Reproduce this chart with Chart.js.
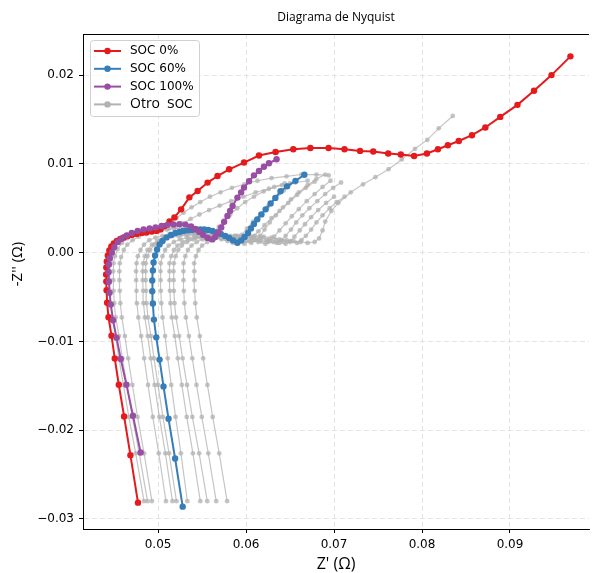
<!DOCTYPE html>
<html>
<head>
<meta charset="utf-8">
<script src="https://cdn.jsdelivr.net/npm/chart.js@4.4.1/dist/chart.umd.min.js"></script>
<style>
	html, body { margin: 0; padding: 0; background: #ffffff; }
	#wrap { width: 593px; height: 573px; }
</style>
</head>
<body>
<div id="wrap"><canvas id="nyquist" width="593" height="573"></canvas></div>
<script>
// axis ticks
const xTicks = [0.05, 0.06, 0.07, 0.08, 0.09];
const yTicks = [-0.03, -0.02, -0.01, 0.0, 0.01, 0.02];

// SOC 0%
const soc0Re = [0.04772,0.04686,0.04614,0.04554,0.04508,0.04471,0.04437,0.04421,0.04415,0.04412,0.04410,0.04412,0.04418,0.04429,0.04446,0.04469,0.04497,0.04531,0.04571,0.04610,0.04655,0.04701,0.04757,0.04814,0.04870,0.04927,0.04983,0.05028,0.05073,0.05130,0.05186,0.05262,0.05356,0.05450,0.05563,0.05676,0.05808,0.05977,0.06147,0.06336,0.06537,0.06731,0.06938,0.07119,0.07296,0.07446,0.07616,0.07759,0.07910,0.08056,0.08181,0.08294,0.08418,0.08568,0.08720,0.08889,0.09085,0.09273,0.09472,0.09687];
const soc0Im = [-0.02816,-0.02281,-0.01845,-0.01488,-0.01191,-0.00935,-0.00728,-0.00565,-0.00423,-0.00325,-0.00246,-0.00167,-0.00099,-0.00032,0.00025,0.00070,0.00104,0.00132,0.00155,0.00172,0.00188,0.00200,0.00211,0.00222,0.00228,0.00239,0.00245,0.00262,0.00299,0.00352,0.00397,0.00488,0.00623,0.00694,0.00789,0.00863,0.00939,0.01015,0.01094,0.01134,0.01165,0.01178,0.01179,0.01165,0.01146,0.01139,0.01117,0.01105,0.01089,0.01117,0.01165,0.01210,0.01258,0.01323,0.01410,0.01529,0.01665,0.01823,0.02000,0.02211];

// SOC 60%
const soc60Re = [0.05280,0.05194,0.05119,0.05062,0.05017,0.04980,0.04953,0.04941,0.04934,0.04934,0.04941,0.04949,0.04966,0.04989,0.05017,0.05051,0.05096,0.05149,0.05198,0.05243,0.05288,0.05337,0.05384,0.05432,0.05480,0.05525,0.05571,0.05619,0.05667,0.05714,0.05763,0.05808,0.05853,0.05902,0.05944,0.05983,0.06023,0.06056,0.06090,0.06128,0.06175,0.06223,0.06279,0.06333,0.06392,0.06467,0.06562,0.06663];
const soc60Im = [-0.02861,-0.02319,-0.01871,-0.01507,-0.01205,-0.00954,-0.00754,-0.00573,-0.00435,-0.00314,-0.00201,-0.00111,-0.00032,0.00036,0.00093,0.00132,0.00172,0.00200,0.00222,0.00234,0.00245,0.00251,0.00256,0.00262,0.00262,0.00262,0.00256,0.00245,0.00228,0.00211,0.00188,0.00166,0.00138,0.00112,0.00138,0.00177,0.00222,0.00273,0.00324,0.00375,0.00431,0.00488,0.00555,0.00617,0.00691,0.00747,0.00809,0.00877];

// SOC 100%
const soc100Re = [0.04802,0.04715,0.04641,0.04576,0.04528,0.04489,0.04463,0.04449,0.04441,0.04437,0.04441,0.04452,0.04475,0.04503,0.04542,0.04588,0.04644,0.04701,0.04768,0.04836,0.04904,0.04972,0.05040,0.05107,0.05175,0.05243,0.05311,0.05375,0.05424,0.05469,0.05514,0.05563,0.05616,0.05650,0.05684,0.05718,0.05751,0.05789,0.05819,0.05847,0.05902,0.05944,0.05977,0.06034,0.06090,0.06147,0.06203,0.06260,0.06347];
const soc100Im = [-0.02252,-0.01837,-0.01488,-0.01198,-0.00960,-0.00762,-0.00585,-0.00453,-0.00328,-0.00220,-0.00133,-0.00065,0.00002,0.00064,0.00121,0.00160,0.00194,0.00222,0.00245,0.00262,0.00273,0.00284,0.00301,0.00313,0.00318,0.00321,0.00316,0.00296,0.00267,0.00234,0.00200,0.00166,0.00149,0.00177,0.00228,0.00284,0.00347,0.00412,0.00471,0.00525,0.00620,0.00679,0.00733,0.00804,0.00871,0.00920,0.00967,0.01007,0.01052];

// other SOC levels (grey)
const otro1Re = [0.0484,0.04746,0.04668,0.04606,0.04555,0.04516,0.04479,0.04462,0.04455,0.04452,0.0445,0.04455,0.0447,0.0450,0.0455,0.0461,0.0468,0.0476,0.0484,0.0492,0.0500,0.0507,0.0514,0.0521,0.0529,0.0538,0.0548,0.0559,0.0571,0.0584,0.0598,0.0613,0.0629,0.0646,0.0663,0.0680,0.0694];
const otro1Im = [-0.0280,-0.0226,-0.0185,-0.0149,-0.0119,-0.0094,-0.0073,-0.0057,-0.0043,-0.0031,-0.0021,-0.0012,-0.0004,0.0004,0.0011,0.0016,0.0019,0.0021,0.0023,0.0024,0.0025,0.0028,0.0033,0.0039,0.0045,0.0051,0.0057,0.0063,0.0068,0.0073,0.0077,0.0081,0.0084,0.0086,0.0088,0.0088,0.0087];
const otro2Re = [0.0488,0.04786,0.04708,0.04646,0.04595,0.04556,0.04519,0.04502,0.04495,0.04492,0.0449,0.04495,0.0451,0.0454,0.0459,0.0465,0.0472,0.0480,0.0488,0.0496,0.0504,0.0512,0.0520,0.0528,0.0537,0.0547,0.0558,0.0570,0.0583,0.0597,0.0611,0.0626,0.0641,0.0656,0.0670];
const otro2Im = [-0.0280,-0.0226,-0.0185,-0.0149,-0.0119,-0.0094,-0.0073,-0.0057,-0.0043,-0.0031,-0.0021,-0.0012,-0.0004,0.0004,0.0011,0.0016,0.0020,0.0022,0.0024,0.0025,0.0026,0.0027,0.0029,0.0033,0.0038,0.0043,0.0048,0.0053,0.0058,0.0063,0.0068,0.0072,0.0076,0.0079,0.0081];
const otro3Re = [0.0493,0.04841,0.04767,0.04708,0.0466,0.04623,0.04588,0.04571,0.04565,0.04561,0.0456,0.04565,0.0458,0.0461,0.0465,0.0471,0.0478,0.0486,0.0494,0.0502,0.0510,0.0518,0.0526,0.0534,0.0541,0.0548,0.0554,0.0559,0.0564,0.0569,0.0575,0.0582,0.0590,0.0599,0.0609,0.0620,0.0632,0.0644];
const otro3Im = [-0.0280,-0.0226,-0.0185,-0.0149,-0.0119,-0.0094,-0.0073,-0.0057,-0.0043,-0.0031,-0.0021,-0.0012,-0.0005,0.0003,0.0009,0.0014,0.0018,0.0021,0.0023,0.0025,0.0026,0.0027,0.0027,0.0026,0.0024,0.0022,0.0020,0.0019,0.0023,0.0029,0.0036,0.0043,0.0050,0.0057,0.0063,0.0069,0.0074,0.0078];
const otro4Re = [0.0509,0.05008,0.0494,0.04886,0.04842,0.04808,0.04776,0.0476,0.04755,0.04751,0.0475,0.04756,0.0477,0.0480,0.0484,0.0490,0.0497,0.0505,0.0513,0.0521,0.0530,0.0539,0.0548,0.0556,0.0564,0.0572,0.0579,0.0585,0.0590,0.0595,0.0601,0.0608,0.0616,0.0625,0.0634,0.0643,0.0650];
const otro4Im = [-0.0280,-0.0226,-0.0185,-0.0149,-0.0119,-0.0094,-0.0073,-0.0057,-0.0043,-0.0031,-0.0021,-0.0012,-0.0004,0.0003,0.0009,0.0014,0.0017,0.0019,0.0021,0.0022,0.0022,0.0022,0.0021,0.0019,0.0017,0.0015,0.0013,0.0011,0.0014,0.0020,0.0027,0.0035,0.0043,0.0052,0.0061,0.0070,0.0078];
const otro5Re = [0.05164,0.05083,0.05015,0.04961,0.04917,0.04883,0.0485,0.04835,0.0483,0.04826,0.04825,0.0483,0.0485,0.0488,0.0493,0.0499,0.0506,0.0514,0.0523,0.0532,0.0541,0.0550,0.0559,0.0568,0.0576,0.0584,0.0591,0.0598,0.0603,0.0608,0.0614,0.0621,0.0629,0.0638,0.0648,0.0658,0.0668,0.0678];
const otro5Im = [-0.0280,-0.0226,-0.0185,-0.0149,-0.0119,-0.0094,-0.0073,-0.0057,-0.0043,-0.0031,-0.0021,-0.0012,-0.0004,0.0003,0.0009,0.0013,0.0016,0.0018,0.0019,0.0020,0.0020,0.0020,0.0019,0.0018,0.0016,0.0014,0.0012,0.0010,0.0013,0.0018,0.0024,0.0031,0.0039,0.0047,0.0056,0.0065,0.0073,0.0080];
const otro6Re = [0.05209,0.05125,0.05055,0.04999,0.04954,0.04919,0.04885,0.0487,0.04864,0.0486,0.04859,0.0486,0.0488,0.0491,0.0496,0.0502,0.0509,0.0517,0.0526,0.0535,0.0545,0.0555,0.0564,0.0573,0.0582,0.0590,0.0598,0.0606,0.0611,0.0616,0.0621,0.0627,0.0634,0.0642,0.0651,0.0660,0.0670,0.0680,0.0690];
const otro6Im = [-0.0280,-0.0226,-0.0185,-0.0149,-0.0119,-0.0094,-0.0073,-0.0057,-0.0043,-0.0031,-0.0021,-0.0012,-0.0004,0.0003,0.0009,0.0014,0.0017,0.0019,0.0020,0.0021,0.0021,0.0021,0.0020,0.0019,0.0017,0.0015,0.0013,0.0011,0.0014,0.0019,0.0026,0.0034,0.0042,0.0051,0.0060,0.0068,0.0076,0.0083,0.0088];
const otro7Re = [0.05333,0.0526,0.05199,0.0515,0.0511,0.0508,0.05051,0.05037,0.05032,0.05029,0.05028,0.0503,0.0505,0.0508,0.0512,0.0518,0.0525,0.0533,0.0542,0.0551,0.0561,0.0571,0.0580,0.0589,0.0598,0.0606,0.0614,0.0622,0.0627,0.0632,0.0638,0.0645,0.0652,0.0660,0.0669,0.0678,0.0687,0.0696];
const otro7Im = [-0.0280,-0.0226,-0.0185,-0.0149,-0.0119,-0.0094,-0.0073,-0.0057,-0.0043,-0.0031,-0.0021,-0.0012,-0.0004,0.0003,0.0008,0.0012,0.0015,0.0017,0.0018,0.0019,0.0019,0.0019,0.0018,0.0017,0.0015,0.0013,0.0012,0.0010,0.0013,0.0018,0.0025,0.0033,0.0041,0.0049,0.0058,0.0066,0.0074,0.0081];
const otro8Re = [0.0548,0.05396,0.05326,0.0527,0.05225,0.0519,0.05156,0.05141,0.05135,0.05131,0.0513,0.0513,0.0515,0.0518,0.0522,0.0528,0.0535,0.0543,0.0552,0.0562,0.0572,0.0582,0.0591,0.0600,0.0609,0.0617,0.0625,0.0635,0.0640,0.0645,0.0651,0.0657,0.0664,0.0672,0.0681,0.0690,0.0699,0.0708];
const otro8Im = [-0.0280,-0.0226,-0.0185,-0.0149,-0.0119,-0.0094,-0.0073,-0.0057,-0.0043,-0.0031,-0.0021,-0.0012,-0.0004,0.0003,0.0008,0.0012,0.0015,0.0017,0.0018,0.0019,0.0019,0.0019,0.0018,0.0017,0.0015,0.0013,0.0012,0.0011,0.0014,0.0019,0.0026,0.0034,0.0042,0.0050,0.0058,0.0066,0.0073,0.0079];
const otro9Re = [0.05559,0.05467,0.0539,0.05329,0.05279,0.0524,0.05204,0.05187,0.0518,0.05177,0.05175,0.0518,0.0520,0.0523,0.0527,0.0533,0.0540,0.0548,0.0557,0.0567,0.0577,0.0587,0.0597,0.0606,0.0615,0.0623,0.0631,0.0638,0.0645,0.0650,0.0655,0.0661,0.0667,0.0674,0.0682,0.0691,0.0700];
const otro9Im = [-0.0280,-0.0226,-0.0185,-0.0149,-0.0119,-0.0094,-0.0073,-0.0057,-0.0043,-0.0031,-0.0021,-0.0012,-0.0004,0.0003,0.0008,0.0012,0.0015,0.0017,0.0018,0.0019,0.0019,0.0019,0.0018,0.0017,0.0015,0.0014,0.0012,0.0011,0.0010,0.0013,0.0018,0.0025,0.0032,0.0040,0.0048,0.0056,0.0063];
const otro10Re = [0.05661,0.05571,0.05497,0.05437,0.05389,0.05351,0.05316,0.05299,0.05293,0.05289,0.05288,0.0529,0.0531,0.0534,0.0538,0.0544,0.0551,0.0559,0.0568,0.0578,0.0588,0.0598,0.0608,0.0617,0.0626,0.0634,0.0642,0.0650,0.0658,0.0663,0.0668,0.0674,0.0680,0.0687,0.0695,0.0703,0.0712];
const otro10Im = [-0.0280,-0.0226,-0.0185,-0.0149,-0.0119,-0.0094,-0.0073,-0.0057,-0.0043,-0.0031,-0.0021,-0.0012,-0.0004,0.0003,0.0008,0.0012,0.0015,0.0017,0.0018,0.0019,0.0019,0.0019,0.0018,0.0017,0.0015,0.0014,0.0013,0.0012,0.0011,0.0014,0.0019,0.0026,0.0034,0.0042,0.0050,0.0057,0.0063];
const otro11Re = [0.05785,0.05695,0.05621,0.05561,0.05513,0.05475,0.0544,0.05423,0.05417,0.05413,0.05412,0.0541,0.0543,0.0546,0.0550,0.0556,0.0563,0.0571,0.0580,0.0590,0.0600,0.0610,0.0620,0.0629,0.0638,0.0646,0.0654,0.0662,0.0670,0.0678,0.0683,0.0687,0.0690,0.0697,0.0705,0.0719,0.0733,0.0747,0.0762,0.0777,0.0792,0.0806,0.0819,0.0835];
const otro11Im = [-0.0280,-0.0226,-0.0185,-0.0149,-0.0119,-0.0094,-0.0073,-0.0057,-0.0043,-0.0031,-0.0021,-0.0012,-0.0004,0.0003,0.0008,0.0012,0.0015,0.0017,0.0018,0.0019,0.0019,0.0019,0.0018,0.0017,0.0015,0.0014,0.0013,0.0012,0.0011,0.0012,0.0016,0.0025,0.0035,0.0047,0.0056,0.0068,0.0077,0.0085,0.0094,0.0105,0.0117,0.0127,0.0140,0.0154];

const otroRe = [otro1Re, otro2Re, otro3Re, otro4Re, otro5Re, otro6Re, otro7Re, otro8Re, otro9Re, otro10Re, otro11Re];
const otroIm = [otro1Im, otro2Im, otro3Im, otro4Im, otro5Im, otro6Im, otro7Im, otro8Im, otro9Im, otro10Im, otro11Im];

const red = "#e41a1c";
const blue = "#377eb8";
const purple = "#984ea3";
const grey = "rgba(178,178,178,0.75)";

// pair up Z' and -Z'' values
function toPoints(re, im) {
	return re.map((x, i) => ({ x: x, y: im[i] }));
}

function colourSet(label, re, im, colour) {
	return {
		label: label,
		data: toPoints(re, im),
		showLine: true,
		borderColor: colour,
		backgroundColor: colour,
		borderWidth: 2,
		pointRadius: 3.2,
		pointBorderWidth: 0,
	};
}

let datasets = [
	colourSet("SOC 100%", soc100Re, soc100Im, purple),
	colourSet("SOC 60%", soc60Re, soc60Im, blue),
	colourSet("SOC 0%", soc0Re, soc0Im, red),
];
otroRe.forEach((re, i) => {
	datasets.push({
		label: "Otro SOC",
		data: toPoints(re, otroIm[i]),
		showLine: true,
		borderColor: grey,
		backgroundColor: grey,
		borderWidth: 1.2,
		pointRadius: 2.4,
		pointBorderWidth: 0,
	});
});

// legend box inside the plot (top left), top spine and y-axis title
const legendBox = {
	id: "legendBox",
	afterDraw(chart) {
		const ctx = chart.ctx;
		const a = chart.chartArea;
		const bx = a.left + 7, by = a.top + 6, bw = 109, bh = 76;
		ctx.save();
		ctx.beginPath();
		ctx.roundRect(bx + 0.5, by + 0.5, bw, bh, 3);
		ctx.fillStyle = "rgba(255,255,255,0.8)";
		ctx.fill();
		ctx.strokeStyle = "#d0d0d0";
		ctx.lineWidth = 1;
		ctx.stroke();
		const items = [
			{ text: "SOC 0%", colour: red },
			{ text: "SOC 60%", colour: blue },
			{ text: "SOC 100%", colour: purple },
			{ text: "Otro", colour: "#b2b2b2" },
		];
		items.forEach((item, i) => {
			const y = by + 11 + i * 17.8;
			ctx.strokeStyle = item.colour;
			ctx.fillStyle = item.colour;
			ctx.lineWidth = 2;
			ctx.beginPath();
			ctx.moveTo(bx + 4, y);
			ctx.lineTo(bx + 31, y);
			ctx.stroke();
			ctx.beginPath();
			ctx.arc(bx + 17.5, y, 3.2, 0, Math.PI * 2);
			ctx.fill();
			ctx.fillStyle = "#000";
			ctx.textBaseline = "middle";
			ctx.textAlign = "left";
			if (i < 3) {
				ctx.font = "12px 'DejaVu Sans'";
				ctx.fillText(item.text, bx + 40, y);
			} else {
				ctx.font = "14px 'Open Sans'";
				ctx.fillText("Otro", bx + 40, y);
				const w = ctx.measureText("Otro").width;
				ctx.font = "12px 'DejaVu Sans'";
				ctx.fillText("SOC", bx + 40 + w + 7, y);
			}
		});
		// top spine
		ctx.strokeStyle = "#000";
		ctx.lineWidth = 1;
		ctx.beginPath();
		ctx.moveTo(a.left, a.top + 0.5);
		ctx.lineTo(a.right, a.top + 0.5);
		ctx.stroke();
		// y axis title
		ctx.translate(18, 264);
		ctx.rotate(-Math.PI / 2);
		ctx.fillStyle = "#000";
		ctx.font = "15px 'Open Sans'";
		ctx.textAlign = "center";
		ctx.textBaseline = "middle";
		ctx.fillText("-Z'' (\u03a9)", 0, 0);
		ctx.restore();
	},
};

function tickText(v) {
	if (Math.abs(v) < 1e-9) return "0.00";
	return v.toFixed(2).replace("-", "\u2212");
}

const ctx = document.getElementById("nyquist");
new Chart(ctx, {
	type: "scatter",
	data: { datasets: datasets },
	options: {
		responsive: false,
		animation: false,
		devicePixelRatio: 1,
		layout: { padding: { left: 0, right: 1, top: 0, bottom: 0 } },
		elements: { line: { tension: 0 } },
		plugins: {
			legend: { display: false },
			tooltip: { enabled: false },
			title: {
				display: true,
				fullSize: false,
				text: "Diagrama de Nyquist",
				color: "#000",
				font: { family: "'Open Sans'", size: 12, weight: "normal" },
				padding: { top: 10, bottom: 9.6 },
			},
		},
		scales: {
			x: {
				type: "linear",
				min: 0.04147,
				max: 0.09898,
				afterFit: (scale) => { scale.height = 44; },
				afterBuildTicks: (scale) => { scale.ticks = xTicks.map((v) => ({ value: v })); },
				grid: { color: "#dddddd", lineWidth: 0.8, tickLength: 4, tickColor: "#000", tickWidth: 1 },
				border: { display: true, color: "#000", width: 1, dash: [5, 3] },
				ticks: {
					color: "#000",
					padding: 5,
					maxRotation: 0,
					font: { family: "'DejaVu Sans'", size: 12 },
					callback: (v) => tickText(v),
				},
				title: {
					display: true,
					text: "Z' (\u03a9)",
					color: "#000",
					font: { family: "'Open Sans'", size: 16 },
					padding: { top: 0, bottom: -1 },
				},
			},
			y: {
				type: "linear",
				min: -0.03113,
				max: 0.02463,
				afterFit: (scale) => { scale.width = 83; },
				afterBuildTicks: (scale) => { scale.ticks = yTicks.map((v) => ({ value: v })); },
				grid: { color: "#dddddd", lineWidth: 0.8, tickLength: 4, tickColor: "#000", tickWidth: 1 },
				border: { display: true, color: "#000", width: 1, dash: [5, 3] },
				ticks: {
					color: "#000",
					padding: 5,
					font: { family: "'DejaVu Sans'", size: 12 },
					callback: (v) => tickText(v),
				},
			},
		},
	},
	plugins: [legendBox],
});
</script>
</body>
</html>
